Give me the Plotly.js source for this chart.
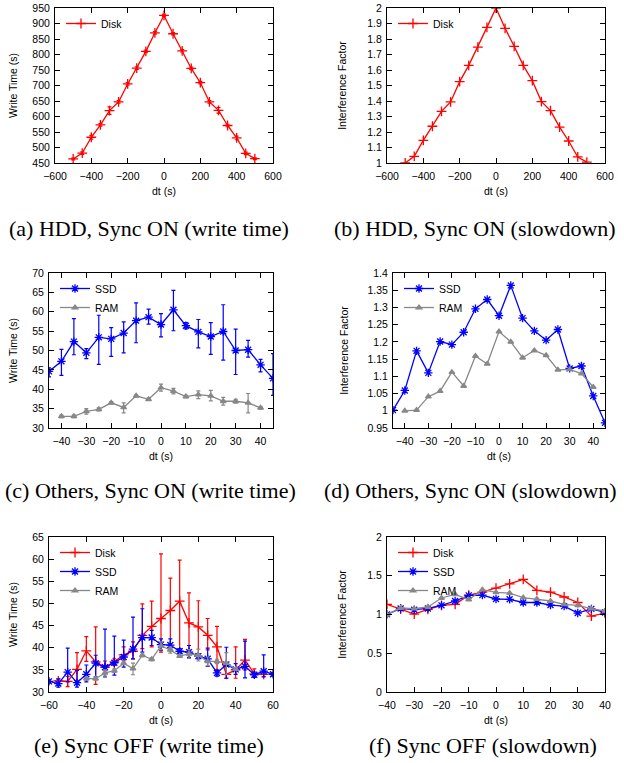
<!DOCTYPE html>
<html><head><meta charset="utf-8">
<script src="https://cdn.plot.ly/plotly-3.0.1.min.js"></script>
<style>html,body{margin:0;padding:0;background:#fff}</style>
</head><body><div id="chart" style="width:624px;height:763px"></div>
<script>
// ---------- data ----------
const dtHdd = [-500,-450,-400,-350,-300,-250,-200,-150,-100,-50,0,50,100,150,200,250,300,350,400,450,500];
const hddSyncTime = [463,482,533,573,619,647,705,756,810,870,926,867,812,755,709,647,620,571,531,481,464];
const hddSyncErr = [3,4,6,4,12,4,4,4,4,4,4,4,4,4,4,4,9,4,6,4,3];
const hddSyncFactor = [1.000,1.043,1.146,1.237,1.333,1.394,1.525,1.630,1.748,1.875,2.0,1.869,1.753,1.630,1.531,1.396,1.338,1.232,1.142,1.039,1.006];

const dtSsd = [-45,-40,-35,-30,-25,-20,-15,-10,-5,0,5,10,15,20,25,30,35,40,45];
const ssdSyncTime = [44.6,47.2,52.3,49.4,53.4,53.0,54.5,57.7,58.6,56.7,60.5,56.4,54.8,53.6,54.9,50.0,50.2,46.3,42.8];
const ssdSyncHigh = [45.5,50.3,58.2,50.5,59.1,55.9,57.4,62.3,60.7,59.5,65.5,57.2,58.0,57.2,61.8,55.5,52.6,47.7,49.2];
const ssdSyncLow  = [43.2,43.6,48.9,47.9,46.4,48.5,49.4,52.0,56.8,53.5,55.1,55.6,50.7,49.0,47.5,43.8,48.3,44.5,38.4];
const ssdSyncFactor = [1.002,1.059,1.174,1.110,1.201,1.192,1.228,1.296,1.323,1.276,1.364,1.269,1.232,1.205,1.236,1.123,1.130,1.043,0.965];

const dtRam = [-40,-35,-30,-25,-20,-15,-10,-5,0,5,10,15,20,25,30,35,40];
const ramTime = [33.0,33.0,34.3,34.8,36.5,35.3,38.3,37.4,40.4,39.5,38.1,38.6,38.3,36.9,36.9,36.5,35.2];
const ramHigh = [33.3,33.3,35.0,35.2,36.8,36.5,38.5,37.7,41.3,40.2,38.4,39.6,39.7,37.9,37.4,38.9,35.5];
const ramLow  = [32.7,32.7,33.6,34.4,36.2,33.9,38.0,37.1,39.5,38.8,37.8,37.6,37.0,35.9,36.4,33.9,34.9];
const ramSyncFactor = [1.000,1.002,1.041,1.057,1.112,1.072,1.159,1.136,1.230,1.200,1.154,1.175,1.161,1.119,1.120,1.108,1.069];

const dtDiskOff = [-55,-50,-45,-40,-35,-30,-25,-20,-15,-10,-5,0,5,10,15,20,25,30,35,40,45,50,55];
const diskOffTime = [32.5,32.4,35.1,39.3,36.8,35.6,36.8,38.4,39.2,42.8,44.8,46.6,48.4,50.5,45.6,44.7,42.8,40.2,34.0,35.0,37.2,34.1,34.0];
const diskOffHigh = [33.0,33.5,38.9,42.5,44.7,37.0,37.5,40.2,41.3,49.9,50.5,61.2,55.7,59.8,52.4,50.6,46.6,44.8,36.4,40.2,41.9,35.2,34.5];
const diskOffLow  = [32.0,31.2,32.1,36.9,31.7,34.8,36.0,37.2,37.5,39.8,40.2,39.0,39.9,38.9,38.8,38.0,39.5,35.0,33.1,33.1,35.0,33.3,33.5];

const dtSsdOff = [-60,-55,-50,-45,-40,-35,-30,-25,-20,-15,-10,-5,0,5,10,15,20,25,30,35,40,45,50,55,60];
const ssdOffTime = [32.4,31.9,34.5,32.1,34.0,36.5,35.6,36.6,37.9,39.7,42.3,42.3,40.7,40.6,39.2,39.0,38.1,37.5,34.3,36.2,35.1,35.8,33.9,34.7,34.0];
const ssdOffHigh = [32.8,32.9,39.9,34.9,36.1,38.3,44.2,42.6,41.7,46.9,48.8,43.9,42.0,42.0,39.8,40.5,38.6,39.9,34.9,40.1,36.4,41.5,34.5,38.4,34.4];
const ssdOffLow  = [32.0,31.1,32.3,31.1,32.3,33.4,33.4,33.8,35.6,37.5,39.0,40.5,39.4,39.5,38.7,37.8,37.5,35.8,33.6,33.1,34.0,33.2,33.3,33.4,33.6];

const dtOffFactor = [-40,-35,-30,-25,-20,-15,-10,-5,0,5,10,15,20,25,30,35,40];
const diskOffFactor = [1.131,1.069,1.005,1.066,1.118,1.131,1.25,1.288,1.340,1.394,1.452,1.312,1.288,1.226,1.155,0.979,1.019];
const ssdOffFactor  = [1.002,1.078,1.062,1.078,1.118,1.174,1.247,1.25,1.2,1.196,1.155,1.155,1.122,1.108,1.019,1.073,1.026];
const ramOffFactor  = [1.0,1.084,1.075,1.097,1.213,1.260,1.191,1.320,1.286,1.277,1.217,1.2,1.174,1.131,1.118,1.075,1.045];

const captions = ["(a) HDD, Sync ON (write time)","(b) HDD, Sync ON (slowdown)",
  "(c) Others, Sync ON (write time)","(d) Others, Sync ON (slowdown)",
  "(e) Sync OFF (write time)","(f) Sync OFF (slowdown)"];

// ---------- styling ----------
const W = 624, H = 763;
const SANS = "Liberation Sans, Arial, sans-serif";
const SERIF = "Liberation Serif, Times New Roman, serif";
const styles = {
  Disk: {color:'#ff0000', symbol:'cross-thin-open', size:7},
  SSD:  {color:'#0000ff', symbol:'asterisk-open', size:7},
  RAM:  {color:'#888888', symbol:'triangle-up', size:5}
};
function trace(name, x, y, k, opts) {
  const s = styles[name];
  const t = {
    type:'scatter', mode:'lines+markers', name:name, x:x, y:y,
    xaxis: k===1?'x':'x'+k, yaxis: k===1?'y':'y'+k,
    legend: k===1?'legend':'legend'+k, showlegend:true,
    line:{color:s.color, width:1.3},
    marker:{symbol:s.symbol, size:s.size, color:s.color, line:{color:s.color, width:1.3}},
    cliponaxis:true
  };
  if (opts && opts.sym) {
    t.error_y = {type:'data', array:opts.sym, visible:true, color:s.color, thickness:1.2, width:2};
  }
  if (opts && opts.hi) {
    t.error_y = {type:'data', symmetric:false, visible:true,
      array: opts.hi.map((v,i)=>v-y[i]), arrayminus: opts.lo.map((v,i)=>y[i]-v),
      color:s.color, thickness:1.2, width:2};
  }
  return t;
}

const data = [
  trace('Disk', dtHdd, hddSyncTime, 1, {sym:hddSyncErr}),
  trace('Disk', dtHdd, hddSyncFactor, 2),
  trace('SSD', dtSsd, ssdSyncTime, 3, {hi:ssdSyncHigh, lo:ssdSyncLow}),
  trace('RAM', dtRam, ramTime, 3, {hi:ramHigh, lo:ramLow}),
  trace('SSD', dtSsd, ssdSyncFactor, 4),
  trace('RAM', dtRam, ramSyncFactor, 4),
  trace('Disk', dtDiskOff, diskOffTime, 5, {hi:diskOffHigh, lo:diskOffLow}),
  trace('SSD', dtSsdOff, ssdOffTime, 5, {hi:ssdOffHigh, lo:ssdOffLow}),
  trace('RAM', dtRam, ramTime, 5, {hi:ramHigh, lo:ramLow}),
  trace('Disk', dtOffFactor, diskOffFactor, 6),
  trace('SSD', dtOffFactor, ssdOffFactor, 6),
  trace('RAM', dtOffFactor, ramOffFactor, 6)
];

// panel boxes in pixels: [left, right, top, bottom]
const boxes = [[55,273,8,163],[387,605,8,163],[49,273,273,428],[393,605,273,428],[49,273,537,692],[387,605,537,692]];
const xr = [[-600,600],[-600,600],[-45,45],[-45,45],[-60,60],[-40,40]];
const xt = [200,200,10,10,20,10];
const yr = [[450,950],[1,2],[30,70],[0.95,1.4],[30,65],[0,2]];
const yt = [50,0.1,5,0.05,5,0.5];
const ytitles = ['Write Time (s)','Interference Factor','Write Time (s)','Interference Factor','Write Time (s)','Interference Factor'];
const ystand = [12,18,12,16,12,18];
const capPos = [[149,228],[475,228],[150,490],[470,490],[149,745],[483,745]];

const layout = {
  width:W, height:H, margin:{l:0,r:0,t:0,b:0}, showlegend:true,
  paper_bgcolor:'#fff', plot_bgcolor:'#fff',
  font:{family:SANS, size:10.5, color:'#000'},
  annotations:[]
};
for (let i=0;i<6;i++) {
  const k = i+1, b = boxes[i];
  const ax = {
    domain:[b[0]/W, b[1]/W], range:xr[i], dtick:xt[i], tick0:0,
    showline:true, linecolor:'#000', linewidth:1, mirror:'allticks',
    ticks:'inside', ticklen:5, tickcolor:'#000', showgrid:false, zeroline:false,
    tickfont:{family:SANS, size:10.5, color:'#000'}, ticklabelstandoff:3,
    title:{text:'dt (s)', font:{family:SANS, size:10.5, color:'#000'}, standoff:7},
    anchor: k===1?'y':'y'+k, automargin:false, fixedrange:true
  };
  if (i===2 || i===3) { ax.tickvals = [-40,-30,-20,-10,0,10,20,30,40]; }
  const ay = {
    domain:[1-b[3]/H, 1-b[2]/H], range:yr[i], dtick:yt[i], tick0:0,
    showline:true, linecolor:'#000', linewidth:1, mirror:'allticks',
    ticks:'inside', ticklen:5, tickcolor:'#000', showgrid:false, zeroline:false,
    tickfont:{family:SANS, size:10.5, color:'#000'}, ticklabelstandoff:2,
    title:{text:ytitles[i], font:{family:SANS, size:10.5, color:'#000'}, standoff:ystand[i]},
    anchor: k===1?'x':'x'+k, automargin:false, fixedrange:true
  };
  layout[k===1?'xaxis':'xaxis'+k] = ax;
  layout[k===1?'yaxis':'yaxis'+k] = ay;
  layout[k===1?'legend':'legend'+k] = {
    x:(b[0]+6)/W, y:1-(b[2]+1)/H, xanchor:'left', yanchor:'top',
    bgcolor:'rgba(0,0,0,0)', borderwidth:0, tracegroupgap:0, visible:true,
    font:{family:SANS, size:10.5, color:'#000'}, itemwidth:30
  };
  layout.annotations.push({
    xref:'paper', yref:'paper', x:capPos[i][0]/W, y:1-capPos[i][1]/H,
    xanchor:'center', yanchor:'middle', showarrow:false, text:captions[i],
    font:{family:SERIF, size:22, color:'#000'}
  });
}
Plotly.newPlot('chart', data, layout, {displayModeBar:false, staticPlot:true});
</script></body></html>
